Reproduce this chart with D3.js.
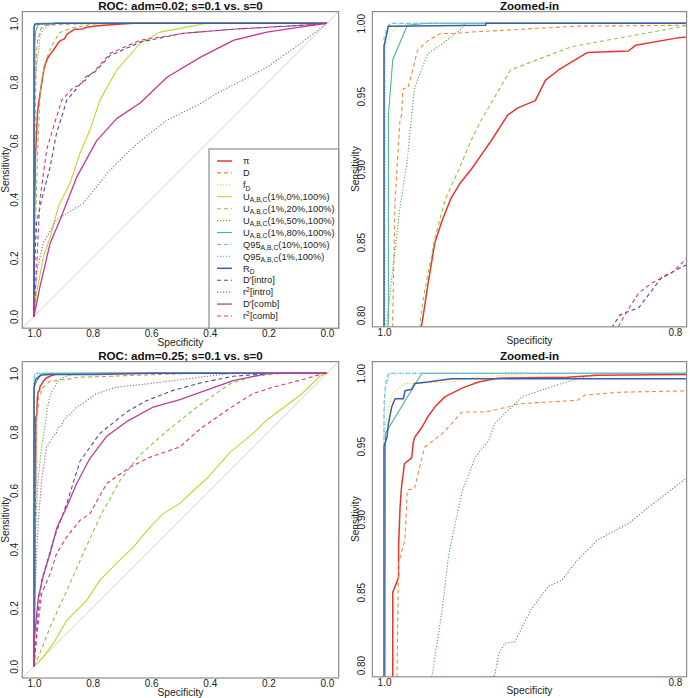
<!DOCTYPE html>
<html><head><meta charset="utf-8">
<script src="https://cdn.jsdelivr.net/npm/d3@7"></script>
<style>body{margin:0;background:#fff}svg{display:block}text{font-family:"Liberation Sans",Arial,Helvetica,sans-serif}</style>
</head><body><div id="chart"></div>
<script>
// ---------- series meta ----------
const seriesKeys = ["pi","D","fD","U0","U20","U50","U80","Q10","Q1","RD","Dint","r2int","Dcomb","r2comb"];
const legendParts = [
  [{t:"π"}],
  [{t:"D"}],
  [{t:"f"},{t:"D",sub:true}],
  [{t:"U"},{t:"A,B,C",sub:true},{t:"(1%,0%,100%)"}],
  [{t:"U"},{t:"A,B,C",sub:true},{t:"(1%,20%,100%)"}],
  [{t:"U"},{t:"A,B,C",sub:true},{t:"(1%,50%,100%)"}],
  [{t:"U"},{t:"A,B,C",sub:true},{t:"(1%,80%,100%)"}],
  [{t:"Q95"},{t:"A,B,C",sub:true},{t:"(10%,100%)"}],
  [{t:"Q95"},{t:"A,B,C",sub:true},{t:"(1%,100%)"}],
  [{t:"R"},{t:"D",sub:true}],
  [{t:"D'[intro]"}],
  [{t:"r"},{t:"2",sup:true},{t:"[intro]"}],
  [{t:"D'[comb]"}],
  [{t:"r"},{t:"2",sup:true},{t:"[comb]"}]
];
const seriesColors = ["#e8352f","#f08a3c","#f5d63a","#c4d42c","#8cc63f","#4eae4a","#4fb58f","#5ec8dc","#6ab6e6","#3b5ea8","#4b4c9e","#9b5bb5","#c2399b","#e6336f"];
const seriesDash = ["none","4,3","1.2,1.8","none","4,3","1.2,1.8","none","4,3","1.2,1.8","none","4,3","1.2,1.8","none","4,3"];
const seriesWidth = [1.5,1.1,1.1,1.1,1.1,1.1,1.1,1.1,1.1,1.5,1.1,1.1,1.3,1.1];
const titles = ["ROC: adm=0.02; s=0.1 vs. s=0","Zoomed-in","ROC: adm=0.25; s=0.1 vs. s=0","Zoomed-in"];
const fullTicks = [1.0,0.8,0.6,0.4,0.2,0.0];
const zoomXTicks = [1.0,0.8];
const zoomYTicks = [0.80,0.85,0.90,0.95,1.00];

// ---------- data: [specificity, sensitivity], adm = 0.02 ----------
const t_pi = [[1,0],[0.999,0.3],[0.995,0.55],[0.988,0.7],[0.978,0.77],[0.973,0.80],[0.970,0.82],[0.965,0.85],[0.960,0.865],[0.954,0.88],[0.948,0.89],[0.940,0.90],[0.933,0.91],[0.926,0.92],[0.915,0.937],[0.908,0.942],[0.896,0.947],[0.889,0.961],[0.880,0.968],[0.867,0.976],[0.860,0.980],[0.832,0.981],[0.827,0.985],[0.798,0.99],[0.75,0.994],[0.70,0.998],[0.66,1],[0,1]];
const t_D = [[1,0],[0.999,0.3],[0.997,0.6],[0.995,0.75],[0.994,0.80],[0.9924,0.879],[0.989,0.934],[0.988,0.937],[0.987,0.955],[0.9835,0.956],[0.980,0.969],[0.977,0.9815],[0.970,0.988],[0.961,0.993],[0.953,0.993],[0.94,0.994],[0.867,0.998],[0.75,0.999],[0.70,1],[0,1]];
const t_fD = [[1,0],[0.9995,0.6],[0.999,0.9],[0.999,0.984],[0.995,0.993],[0.990,0.9986],[0.98,1],[0,1]];
const t_U0 = [[1,0],[0.991,0.08],[0.968,0.204],[0.945,0.27],[0.917,0.375],[0.877,0.455],[0.843,0.557],[0.809,0.636],[0.775,0.738],[0.718,0.84],[0.638,0.932],[0.57,0.97],[0.478,0.987],[0.41,1],[0,1]];
const t_U20 = [[1,0],[0.995,0.3],[0.988,0.55],[0.98,0.74],[0.975,0.797],[0.972,0.817],[0.965,0.853],[0.958,0.879],[0.949,0.899],[0.94,0.92],[0.933,0.934],[0.913,0.968],[0.871,0.984],[0.821,0.993],[0.79,0.9986],[0.75,1],[0,1]];
const t_U50 = [[1,0],[0.9995,0.4],[0.999,0.7],[0.998,0.797],[0.994,0.831],[0.989,0.874],[0.984,0.906],[0.981,0.937],[0.979,0.956],[0.970,0.979],[0.960,0.986],[0.948,0.995],[0.944,1],[0,1]];
const t_U80 = [[1,0],[0.999,0.5],[0.998,0.75],[0.997,0.8],[0.997,0.937],[0.994,0.975],[0.984,0.9986],[0.97,1],[0,1]];
const t_Q10 = [[1,0],[1,0.99],[0.998,0.997],[0.996,1],[0,1]];
const t_Q1 = [[1,0],[1,0.985],[0.998,0.995],[0.995,1],[0,1]];
const t_RD = [[1,0],[1,0.984],[0.997,0.998],[0.93,0.9986],[0.93,1],[0,1]];
const t_Dint = [[1,0],[0.999,0.17],[0.991,0.32],[0.974,0.398],[0.945,0.51],[0.923,0.626],[0.888,0.738],[0.865,0.765],[0.843,0.792],[0.838,0.80],[0.825,0.805],[0.809,0.826],[0.791,0.835],[0.74,0.89],[0.638,0.936],[0.49,0.966],[0.32,0.98],[0.092,0.993],[0,1]];
const t_r2int = [[1,0],[0.991,0.15],[0.969,0.25],[0.923,0.33],[0.832,0.386],[0.74,0.5],[0.648,0.59],[0.546,0.67],[0.433,0.725],[0.375,0.762],[0.30,0.80],[0.205,0.85],[0.092,0.93],[0,1]];
const t_Dcomb = [[1,0],[0.98,0.10],[0.945,0.25],[0.911,0.33],[0.854,0.476],[0.786,0.60],[0.718,0.675],[0.638,0.728],[0.546,0.816],[0.433,0.884],[0.32,0.942],[0.205,0.97],[0.092,0.987],[0,1]];
const t_r2comb = [[1,0],[0.991,0.17],[0.98,0.398],[0.957,0.568],[0.934,0.646],[0.905,0.738],[0.867,0.78],[0.839,0.792],[0.834,0.801],[0.825,0.815],[0.816,0.822],[0.802,0.829],[0.791,0.84],[0.74,0.898],[0.638,0.942],[0.49,0.966],[0.32,0.98],[0.09,0.993],[0,1]];

// ---------- data: adm = 0.25 ----------
const b_pi = [[1,0],[0.997,0.3],[0.995,0.6],[0.994,0.8],[0.994,0.85],[0.992,0.855],[0.990,0.86],[0.990,0.881],[0.989,0.908],[0.988,0.922],[0.986,0.938],[0.981,0.942],[0.980,0.952],[0.979,0.956],[0.974,0.963],[0.970,0.970],[0.965,0.977],[0.958,0.984],[0.946,0.990],[0.935,0.994],[0.922,0.9966],[0.874,0.9973],[0.853,0.9986],[0.70,1],[0,1]];
const b_D = [[1,0],[0.997,0.3],[0.994,0.6],[0.991,0.8],[0.990,0.87],[0.9856,0.886],[0.984,0.92],[0.979,0.921],[0.975,0.938],[0.972,0.9495],[0.960,0.9587],[0.9535,0.9655],[0.9466,0.9735],[0.9306,0.9735],[0.9146,0.977],[0.908,0.979],[0.867,0.9815],[0.862,0.985],[0.839,0.987],[0.791,0.988],[0.6,0.995],[0.45,1],[0,1]];
const b_fD = [[1,0],[0.9995,0.5],[0.999,0.8],[0.999,0.9655],[0.9947,0.986],[0.9856,0.993],[0.9535,0.994],[0.94,0.997],[0.9,1],[0,1]];
const b_U0 = [[1,0],[0.968,0.032],[0.934,0.078],[0.888,0.157],[0.877,0.168],[0.82,0.225],[0.775,0.294],[0.718,0.352],[0.661,0.407],[0.604,0.475],[0.559,0.521],[0.502,0.556],[0.456,0.60],[0.411,0.64],[0.331,0.73],[0.252,0.795],[0.206,0.84],[0.092,0.925],[0.024,0.99],[0,1]];
const b_U20 = [[1,0],[0.98,0.044],[0.945,0.134],[0.888,0.259],[0.832,0.385],[0.775,0.51],[0.706,0.635],[0.64,0.72],[0.55,0.80],[0.45,0.88],[0.38,0.93],[0.33,0.965],[0.25,0.99],[0.15,1],[0,1]];
const b_U50 = [[1,0],[0.998,0.3],[0.993,0.5],[0.985,0.65],[0.974,0.75],[0.967,0.793],[0.960,0.838],[0.956,0.872],[0.9535,0.886],[0.946,0.92],[0.937,0.943],[0.928,0.954],[0.924,0.9655],[0.905,0.984],[0.878,0.993],[0.853,1],[0,1]];
const b_U80 = [[1,0],[0.9995,0.6],[0.999,0.959],[0.974,1],[0,1]];
const b_Q10 = [[1,0],[1,0.98],[0.999,0.993],[0.997,1],[0,1]];
const b_Q1 = [[1,0],[1,0.97],[0.999,0.99],[0.996,1],[0,1]];
const b_RD = [[1,0],[1,0.95],[0.998,0.956],[0.997,0.9655],[0.9947,0.977],[0.9924,0.9826],[0.9867,0.9826],[0.9856,0.988],[0.981,0.989],[0.979,0.993],[0.970,0.994],[0.9535,0.9963],[0.79,0.9963],[0.6,1],[0,1]];
const b_Dint = [[1,0],[0.985,0.2],[0.974,0.293],[0.934,0.43],[0.888,0.556],[0.843,0.70],[0.775,0.795],[0.74,0.823],[0.684,0.868],[0.62,0.905],[0.53,0.94],[0.433,0.967],[0.32,0.99],[0.18,1],[0,1]];
const b_r2int = [[1,0],[0.998,0.2],[0.991,0.385],[0.985,0.498],[0.974,0.635],[0.957,0.749],[0.93,0.79],[0.924,0.793],[0.921,0.808],[0.917,0.815],[0.91,0.816],[0.905,0.826],[0.899,0.838],[0.887,0.854],[0.878,0.858],[0.867,0.872],[0.853,0.886],[0.832,0.897],[0.821,0.906],[0.791,0.929],[0.752,0.942],[0.718,0.953],[0.604,0.965],[0.433,0.987],[0.32,1],[0,1]];
const b_Dcomb = [[1,0],[0.9995,0.089],[0.985,0.237],[0.968,0.31],[0.945,0.385],[0.923,0.47],[0.888,0.545],[0.854,0.625],[0.809,0.71],[0.752,0.785],[0.684,0.835],[0.593,0.885],[0.502,0.91],[0.433,0.935],[0.32,0.975],[0.2,1],[0,1]];
const b_r2comb = [[1,0],[0.991,0.10],[0.974,0.248],[0.945,0.316],[0.923,0.385],[0.888,0.442],[0.843,0.498],[0.809,0.521],[0.752,0.624],[0.672,0.68],[0.604,0.714],[0.502,0.749],[0.433,0.81],[0.342,0.874],[0.252,0.931],[0.183,0.953],[0.092,0.976],[0.01,1],[0,1]];

const topSeries = [t_pi,t_D,t_fD,t_U0,t_U20,t_U50,t_U80,t_Q10,t_Q1,t_RD,t_Dint,t_r2int,t_Dcomb,t_r2comb];
const botSeries = [b_pi,b_D,b_fD,b_U0,b_U20,b_U50,b_U80,b_Q10,b_Q1,b_RD,b_Dint,b_r2int,b_Dcomb,b_r2comb];

// ---------- drawing ----------
const W = 690, H = 698;
const svg = d3.select("#chart").append("svg").attr("width", W).attr("height", H);
const defs = svg.append("defs");

function pad(a, b) { const e = (b - a) * 0.04; return [a - e, b + e]; }

const panels = [
  {id:0, data:topSeries, xdom:pad(0,1).reverse(), ydom:pad(0,1), xr:[22.3,338.7], yr:[328.2,11.6], xt:fullTicks, yt:fullTicks, fmt:d3.format(".1f"), yfmt:d3.format(".1f"), yoff:7.5, legend:true},
  {id:1, data:topSeries, xdom:pad(0.8,1).reverse(), ydom:pad(0.8,1), xr:[372.4,686.6], yr:[326.8,11.6], xt:zoomXTicks, yt:zoomYTicks, fmt:d3.format(".1f"), yfmt:d3.format(".2f"), yoff:10.5},
  {id:2, data:botSeries, xdom:pad(0,1).reverse(), ydom:pad(0,1), xr:[22.3,338.7], yr:[678.0,361.6], xt:fullTicks, yt:fullTicks, fmt:d3.format(".1f"), yfmt:d3.format(".1f"), yoff:7.5},
  {id:3, data:botSeries, xdom:pad(0.8,1).reverse(), ydom:pad(0.8,1), xr:[372.4,686.6], yr:[676.8,361.6], xt:zoomXTicks, yt:zoomYTicks, fmt:d3.format(".1f"), yfmt:d3.format(".2f"), yoff:10.5}
];

panels.forEach(p => {
  const x = d3.scaleLinear().domain(p.xdom).range(p.xr);
  const y = d3.scaleLinear().domain(p.ydom).range(p.yr);
  const g = svg.append("g");
  const x0 = p.xr[0], x1 = p.xr[1], y0 = p.yr[1], y1 = p.yr[0];
  defs.append("clipPath").attr("id", "clip" + p.id)
    .append("rect").attr("x", x0).attr("y", y0).attr("width", x1 - x0).attr("height", y1 - y0);
  const plot = g.append("g").attr("clip-path", "url(#clip" + p.id + ")");
  plot.append("line")
    .attr("x1", x(p.xdom[0])).attr("y1", y(1 - p.xdom[0]))
    .attr("x2", x(p.xdom[1])).attr("y2", y(1 - p.xdom[1]))
    .attr("stroke", "#cfcfcf").attr("stroke-width", 1);
  const line = d3.line().x(d => x(d[0])).y(d => y(d[1]));
  p.data.forEach((s, i) => {
    plot.append("path").attr("d", line(s)).attr("fill", "none")
      .attr("stroke", seriesColors[i]).attr("stroke-width", seriesWidth[i])
      .attr("stroke-dasharray", seriesDash[i] === "none" ? null : seriesDash[i])
      .attr("stroke-linejoin", "round");
  });
  g.append("rect").attr("x", x0).attr("y", y0).attr("width", x1 - x0).attr("height", y1 - y0)
    .attr("fill", "none").attr("stroke", "#8c8c8c").attr("stroke-width", 1.2);
  // x axis
  const xAxis = d3.axisBottom(x).tickValues(p.xt).tickFormat(p.fmt).tickSize(0).tickPadding(0);
  const xa = g.append("g").attr("transform", `translate(0,${y1})`).call(xAxis);
  xa.select(".domain").remove();
  xa.selectAll("text").attr("font-size", 10).attr("fill", "#222").attr("dy", null).attr("y", 9);
  // y axis
  const yAxis = d3.axisLeft(y).tickValues(p.yt).tickFormat(p.yfmt).tickSize(0);
  const ya = g.append("g").attr("transform", `translate(${x0},0)`).call(yAxis);
  ya.select(".domain").remove();
  ya.selectAll("text").attr("font-size", 10).attr("fill", "#222")
    .attr("x", null).attr("y", null).attr("dy", null).attr("text-anchor", "middle")
    .attr("dominant-baseline", "central")
    .attr("transform", `translate(${-p.yoff},0) rotate(-90)`);
  // titles and labels
  const cx = (x0 + x1) / 2;
  g.append("text").attr("x", cx).attr("y", y0 - 1.8).attr("text-anchor", "middle")
    .attr("font-size", 11.6).attr("font-weight", "bold").attr("fill", "#111").text(titles[p.id]);
  g.append("text").attr("x", cx).attr("y", y1 + 17.5).attr("text-anchor", "middle")
    .attr("font-size", 10.2).attr("fill", "#222").text("Specificity");
  g.append("text").attr("transform", `translate(${x0 - 17},${(y0 + y1) / 2}) rotate(-90)`)
    .attr("text-anchor", "middle").attr("dominant-baseline", "central")
    .attr("font-size", 10.2).attr("fill", "#222").text("Sensitivity");

  if (p.legend) {
    const lx0 = 209, ly0 = 149, lx1 = x1, ly1 = y1;
    const lg = g.append("g");
    lg.append("rect").attr("x", lx0).attr("y", ly0).attr("width", lx1 - lx0).attr("height", ly1 - ly0)
      .attr("fill", "#fff").attr("stroke", "#8c8c8c").attr("stroke-width", 1.2);
    const rowY = d3.scaleLinear().domain([0, seriesKeys.length - 1]).range([161, 316]);
    seriesKeys.forEach((k, i) => {
      const yy = rowY(i);
      lg.append("line").attr("x1", 217).attr("x2", 232).attr("y1", yy).attr("y2", yy)
        .attr("stroke", seriesColors[i]).attr("stroke-width", seriesWidth[i])
        .attr("stroke-dasharray", seriesDash[i] === "none" ? null : seriesDash[i]);
      const t = lg.append("text").attr("x", 243).attr("y", yy + 3.2).attr("font-size", 9.3).attr("fill", "#222");
      legendParts[i].forEach((pt, j) => {
        const ts = t.append("tspan").text(pt.t);
        if (pt.sub) ts.attr("font-size", 6.8).attr("dy", 2.5);
        else if (pt.sup) ts.attr("font-size", 6.8).attr("dy", -3.5);
        else if (j > 0) {
          const prev = legendParts[i][j - 1];
          ts.attr("dy", prev.sub ? -2.5 : prev.sup ? 3.5 : null);
        }
      });
    });
  }
});
</script>
</body></html>
